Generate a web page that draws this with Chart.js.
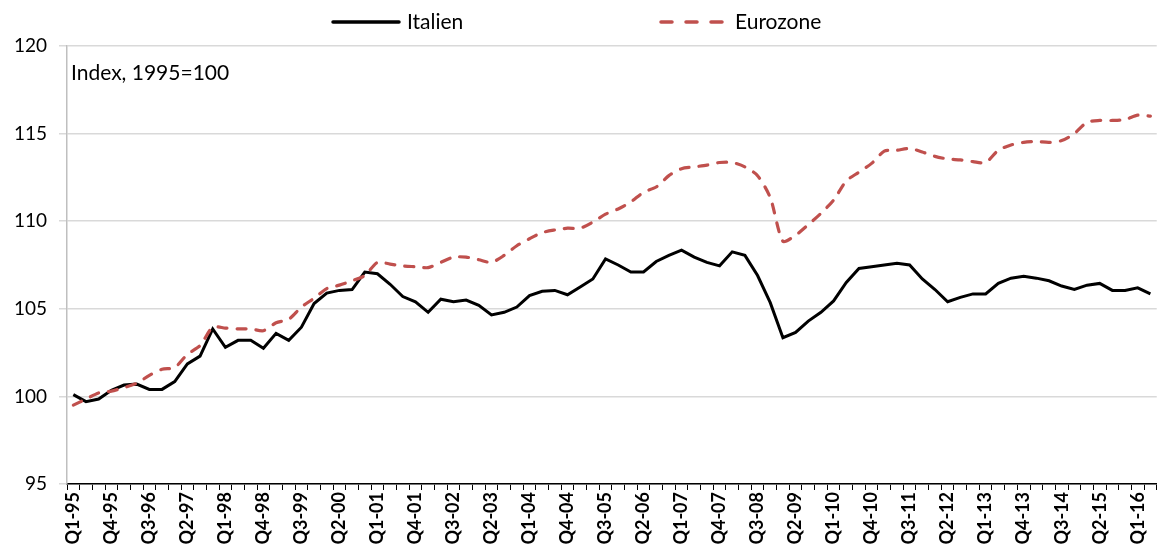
<!DOCTYPE html>
<html lang="de">
<head>
<meta charset="UTF-8">
<title>Italien vs. Eurozone</title>
<script src="https://cdn.jsdelivr.net/npm/chart.js@4.4.0/dist/chart.umd.min.js"></script>
<style>
  html, body { margin: 0; padding: 0; background: #fff; }
  #wrap { width: 1174px; height: 560px; }
</style>
</head>
<body>
<div id="wrap"><canvas id="chart"></canvas></div>
<script>
// quarters Q1-95 .. Q2-16
const quarters = [
  'Q1-95','Q2-95','Q3-95','Q4-95','Q1-96','Q2-96','Q3-96','Q4-96',
  'Q1-97','Q2-97','Q3-97','Q4-97','Q1-98','Q2-98','Q3-98','Q4-98',
  'Q1-99','Q2-99','Q3-99','Q4-99','Q1-00','Q2-00','Q3-00','Q4-00',
  'Q1-01','Q2-01','Q3-01','Q4-01','Q1-02','Q2-02','Q3-02','Q4-02',
  'Q1-03','Q2-03','Q3-03','Q4-03','Q1-04','Q2-04','Q3-04','Q4-04',
  'Q1-05','Q2-05','Q3-05','Q4-05','Q1-06','Q2-06','Q3-06','Q4-06',
  'Q1-07','Q2-07','Q3-07','Q4-07','Q1-08','Q2-08','Q3-08','Q4-08',
  'Q1-09','Q2-09','Q3-09','Q4-09','Q1-10','Q2-10','Q3-10','Q4-10',
  'Q1-11','Q2-11','Q3-11','Q4-11','Q1-12','Q2-12','Q3-12','Q4-12',
  'Q1-13','Q2-13','Q3-13','Q4-13','Q1-14','Q2-14','Q3-14','Q4-14',
  'Q1-15','Q2-15','Q3-15','Q4-15','Q1-16','Q2-16'
];

const italien = [
  100.1, 99.7, 99.85, 100.35, 100.65, 100.7, 100.4, 100.4,
  100.85, 101.85, 102.3, 103.85, 102.8, 103.2, 103.2, 102.75,
  103.6, 103.2, 103.95, 105.3, 105.9, 106.05, 106.1, 107.1,
  107.0, 106.4, 105.7, 105.4, 104.8, 105.55, 105.4, 105.5,
  105.2, 104.65, 104.8, 105.1, 105.75, 106.0, 106.05, 105.8,
  106.25, 106.7, 107.85, 107.5, 107.1, 107.1, 107.7, 108.05,
  108.35, 107.95, 107.65, 107.45, 108.25, 108.05, 106.9, 105.35,
  103.35, 103.65, 104.3, 104.8, 105.45, 106.5, 107.3, 107.4,
  107.5, 107.6, 107.5, 106.7, 106.1, 105.4, 105.65, 105.85,
  105.85, 106.45, 106.75, 106.85, 106.75, 106.6, 106.3, 106.1,
  106.35, 106.45, 106.05, 106.05, 106.2, 105.85
];

const eurozone = [
  99.5, 99.85, 100.2, 100.3, 100.5, 100.75, 101.2, 101.55,
  101.65, 102.4, 102.9, 103.95, 103.9, 103.85, 103.85, 103.75,
  104.2, 104.4, 105.1, 105.6, 106.15, 106.35, 106.6, 106.9,
  107.65, 107.55, 107.45, 107.4, 107.35, 107.65, 107.95, 107.95,
  107.8, 107.65, 108.05, 108.6, 109.0, 109.35, 109.5, 109.6,
  109.6, 109.95, 110.4, 110.7, 111.1, 111.65, 111.95, 112.6,
  113.0, 113.1, 113.2, 113.35, 113.35, 113.1, 112.6, 111.35,
  108.85, 109.2, 109.8, 110.45, 111.2, 112.3, 112.8, 113.3,
  114.0, 114.05, 114.15, 113.95, 113.7, 113.55, 113.5, 113.4,
  113.35, 114.05, 114.35, 114.5, 114.55, 114.5, 114.6, 115.0,
  115.65, 115.75, 115.75, 115.8, 116.05, 116.0
];

const note = 'Index, 1995=100';
const fontFamily = 'Lato, "Open Sans", sans-serif';

// legend drawn by hand so the two items can sit far apart like in Excel
const lineLegend = {
  id: 'lineLegend',
  afterDraw(chart) {
    const ctx = chart.ctx;
    const spots = [{ x: 333, w: 66, dash: [] }, { x: 661, w: 66, dash: [11, 14] }];
    chart.data.datasets.forEach((ds, i) => {
      const s = spots[i];
      ctx.save();
      ctx.strokeStyle = ds.borderColor;
      ctx.lineWidth = 3.5;
      ctx.lineCap = 'round';
      ctx.setLineDash(s.dash);
      ctx.beginPath();
      ctx.moveTo(s.x, 22);
      ctx.lineTo(s.x + s.w, 22);
      ctx.stroke();
      ctx.setLineDash([]);
      ctx.fillStyle = '#000';
      ctx.font = '21px ' + fontFamily;
      ctx.textBaseline = 'middle';
      ctx.fillText(ds.label, s.x + s.w + 8, 22);
      ctx.restore();
    });

    ctx.save();
    ctx.fillStyle = '#000';
    ctx.font = '21px ' + fontFamily;
    ctx.textBaseline = 'alphabetic';
    ctx.fillText(note, chart.chartArea.left + 4, 80);
    ctx.restore();
  }
};

new Chart(document.getElementById('chart'), {
  type: 'line',
  data: {
    labels: quarters,
    datasets: [
      {
        label: 'Italien',
        data: italien,
        borderColor: '#000000',
        borderWidth: 3,
        pointRadius: 0,
        tension: 0,
        order: 1
      },
      {
        label: 'Eurozone',
        data: eurozone,
        borderColor: '#C0504D',
        borderWidth: 3.2,
        borderDash: [9, 10],
        borderCapStyle: 'round',
        pointRadius: 0,
        tension: 0.25,
        order: 0
      }
    ]
  },
  options: {
    responsive: true,
    maintainAspectRatio: false,
    animation: false,
    layout: { padding: { top: 46, right: 2, left: 0, bottom: 0 } },
    plugins: {
      legend: { display: false },
      tooltip: { enabled: false }
    },
    scales: {
      x: {
        offset: true,
        grid: { offset: true, drawOnChartArea: false, tickLength: 6, color: '#000', lineWidth: 1 },
        border: { color: '#000', width: 1.5 },
        ticks: {
          autoSkip: false,
          maxRotation: 90,
          minRotation: 90,
          padding: 2,
          color: '#000',
          font: { family: fontFamily, size: 18, weight: 'bold' },
          callback: (v, i) => (i % 3 === 0 ? quarters[i] : '')
        },
        afterFit: s => { s.height = 76; }
      },
      y: {
        min: 95,
        max: 120,
        ticks: { stepSize: 5, color: '#000', padding: 12, font: { family: fontFamily, size: 19 } },
        grid: { color: '#d9d9d9', lineWidth: 1.5, tickLength: 8 },
        border: { color: '#bfbfbf', width: 1.5 },
        afterFit: s => { s.width = 67; }
      }
    }
  },
  plugins: [lineLegend]
});
</script>
</body>
</html>
